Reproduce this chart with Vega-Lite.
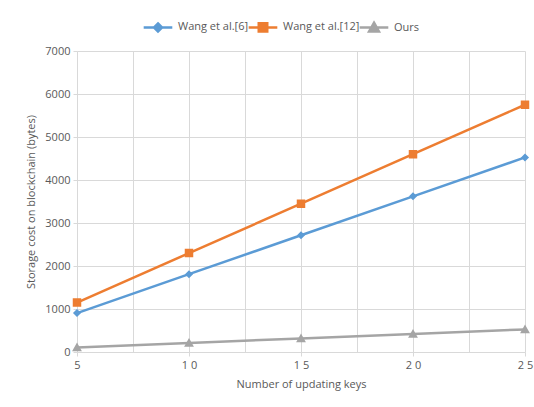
{
  "$schema": "https://vega.github.io/schema/vega-lite/v6.json",
  "width": 448,
  "height": 301,
  "autosize": {"type": "none"},
  "padding": {"left": 77, "top": 51, "right": 9, "bottom": 55},
  "background": "white",
  "config": {
    "font": "Open Sans",
    "view": {"stroke": null},
    "axis": {"labelColor": "#595959", "titleColor": "#595959", "labelFontSize": 11, "titleFontSize": 11, "titleFontWeight": "normal", "gridColor": "#d9d9d9", "gridWidth": 1, "tickColor": "#d9d9d9", "domainColor": "#d9d9d9"},
    "legend": {"labelColor": "#595959", "labelFontSize": 11}
  },
  "data": {
    "values": [
      {"keys": 5, "series": "Wang et al.[6]", "cost": 905},
      {"keys": 10, "series": "Wang et al.[6]", "cost": 1810},
      {"keys": 15, "series": "Wang et al.[6]", "cost": 2715},
      {"keys": 20, "series": "Wang et al.[6]", "cost": 3620},
      {"keys": 25, "series": "Wang et al.[6]", "cost": 4525},
      {"keys": 5, "series": "Wang et al.[12]", "cost": 1150},
      {"keys": 10, "series": "Wang et al.[12]", "cost": 2300},
      {"keys": 15, "series": "Wang et al.[12]", "cost": 3450},
      {"keys": 20, "series": "Wang et al.[12]", "cost": 4600},
      {"keys": 25, "series": "Wang et al.[12]", "cost": 5750},
      {"keys": 5, "series": "Ours", "cost": 105},
      {"keys": 10, "series": "Ours", "cost": 210},
      {"keys": 15, "series": "Ours", "cost": 315},
      {"keys": 20, "series": "Ours", "cost": 420},
      {"keys": 25, "series": "Ours", "cost": 525}
    ]
  },
  "encoding": {
    "x": {
      "field": "keys", "type": "quantitative",
      "scale": {"domain": [5, 25], "nice": false, "zero": false},
      "axis": {
        "title": "Number of updating keys",
        "values": [5, 7.5, 10, 12.5, 15, 17.5, 20, 22.5, 25],
        "labelExpr": "datum.value % 5 !== 0 ? '' : (datum.value < 10 ? '5' : substring(toString(datum.value), 0, 1) + ' ' + substring(toString(datum.value), 1, 2))",
        "tickSize": 4,
        "tickOpacity": {"condition": {"test": "datum.value % 5 === 0", "value": 1}, "value": 0},
        "labelPadding": 3,
        "titlePadding": 8,
        "domain": false,
        "labelFlush": false
      }
    },
    "y": {
      "field": "cost", "type": "quantitative",
      "scale": {"domain": [0, 7000], "nice": false},
      "axis": {
        "title": "Storage cost on blockchain (bytes)",
        "values": [0, 1000, 2000, 3000, 4000, 5000, 6000, 7000],
        "format": "d",
        "tickSize": 4,
        "labelPadding": 3,
        "titlePadding": 8,
        "domain": false
      }
    },
    "color": {
      "field": "series", "type": "nominal",
      "scale": {"domain": ["Wang et al.[6]", "Wang et al.[12]", "Ours"], "range": ["#5B9BD5", "#ED7D31", "#A5A5A5"]},
      "legend": {
        "title": null,
        "orient": "none",
        "direction": "horizontal",
        "legendX": 75,
        "legendY": -30,
        "symbolSize": 80,
        "symbolStrokeWidth": 2.5,
        "labelOffset": 14,
        "columnPadding": -6
      }
    }
  },
  "layer": [
    {
      "mark": {"type": "line", "strokeWidth": 2.5}
    },
    {
      "mark": {"type": "point", "filled": true, "opacity": 1, "size": 80},
      "encoding": {
        "shape": {
          "field": "series", "type": "nominal",
          "scale": {"domain": ["Wang et al.[6]", "Wang et al.[12]", "Ours"], "range": ["M-3.2,0H3.2M0,-0.9L0.9,0L0,0.9L-0.9,0Z", "M-3.2,0H3.2M-0.95,-0.95H0.95V0.95H-0.95Z", "M-3.2,0H3.2M0,-1.1L1.1,0.85L-1.1,0.85Z"]}
        }
      }
    }
  ]
}
